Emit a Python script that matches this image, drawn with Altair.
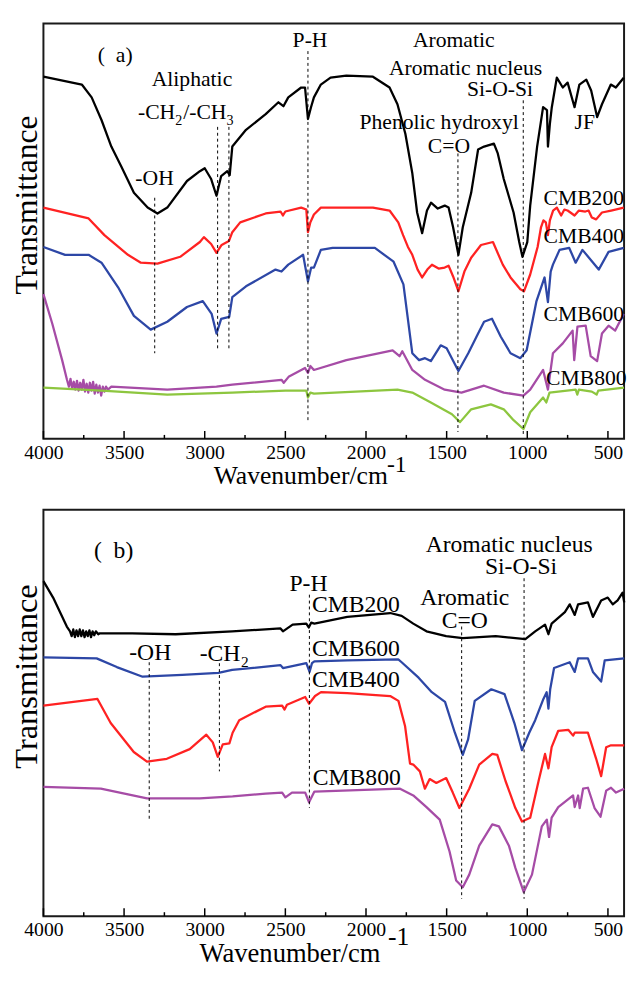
import altair as alt
import pandas as pd

FONT = "Liberation Serif"

# ---------------- Panel (a): wavenumber (cm-1), transmittance (a.u.) ----------------
A_JF = [(4000, 368), (3762, 360), (3701, 347), (3640, 324), (3579, 297), (3518, 277), (3439, 250),
        (3354, 235), (3293, 229), (3232, 235), (3110, 262), (3030, 272), (3000, 275), (2960, 264),
        (2927, 247), (2898, 267), (2860, 272), (2845, 268), (2829, 297), (2744, 314), (2622, 330),
        (2543, 342), (2512, 338), (2482, 347), (2402, 357), (2378, 357), (2360, 325), (2341, 337),
        (2323, 347), (2280, 360), (2220, 367), (2122, 369), (1957, 368), (1854, 357), (1805, 340),
        (1756, 310), (1713, 270), (1683, 230), (1652, 209), (1622, 232), (1597, 240), (1555, 234),
        (1512, 237), (1488, 235), (1460, 215), (1427, 187), (1400, 215), (1348, 250), (1305, 294),
        (1268, 297), (1207, 300), (1183, 290), (1146, 264), (1085, 230), (1050, 200), (1030, 185),
        (1000, 200), (982, 237), (939, 297), (902, 337), (878, 334), (872, 297), (860, 320),
        (848, 337), (817, 367), (780, 357), (750, 362), (707, 337), (677, 360), (634, 365),
        (604, 354), (567, 327), (537, 340), (482, 360), (451, 357), (402, 367)]
A_CMB200 = [(4000, 235), (3720, 224), (3622, 207), (3476, 187), (3396, 179), (3293, 178), (3152, 185),
            (3030, 200), (3005, 205), (2960, 198), (2927, 189), (2895, 197), (2850, 201), (2829, 210),
            (2780, 220), (2622, 229), (2530, 231), (2515, 227), (2500, 231), (2402, 235), (2370, 233),
            (2360, 210), (2345, 220), (2323, 228), (2280, 235), (2200, 235), (1957, 235), (1854, 232),
            (1800, 220), (1770, 207), (1740, 195), (1713, 187), (1680, 172), (1652, 164), (1620, 172),
            (1591, 177), (1550, 173), (1512, 174), (1488, 176), (1460, 165), (1427, 150), (1390, 170),
            (1348, 184), (1287, 197), (1213, 200), (1152, 177), (1104, 164), (1043, 152), (1020, 150),
            (982, 167), (936, 195), (915, 215), (900, 222), (885, 220), (872, 207), (860, 222),
            (840, 232), (817, 235), (790, 227), (770, 233), (750, 232), (707, 227), (680, 232),
            (640, 231), (620, 232), (600, 225), (573, 223), (537, 230), (480, 232), (402, 235)]
A_CMB400 = [(4000, 195), (3866, 187), (3720, 187), (3640, 179), (3537, 154), (3439, 125), (3335, 111),
            (3232, 119), (3110, 134), (3012, 140), (2957, 127), (2927, 107), (2898, 122), (2848, 124),
            (2829, 144), (2744, 155), (2561, 172), (2524, 170), (2482, 177), (2390, 187), (2360, 160),
            (2340, 174), (2323, 174), (2280, 192), (2207, 194), (1945, 194), (1829, 180), (1768, 157),
            (1713, 87), (1671, 80), (1634, 82), (1598, 79), (1537, 95), (1500, 92), (1427, 69),
            (1366, 87), (1305, 107), (1268, 119), (1219, 122), (1165, 104), (1104, 87), (1043, 82),
            (1004, 90), (943, 140), (893, 164), (872, 139), (855, 170), (841, 177), (800, 192),
            (740, 194), (700, 179), (658, 192), (597, 180), (557, 172), (496, 190), (402, 194)]
A_CMB600 = [(4000, 147), (3945, 117), (3884, 80), (3854, 60), (3842, 53), (3832, 61), (3822, 51),
            (3812, 58), (3802, 50), (3792, 59), (3782, 49), (3772, 57), (3762, 50), (3752, 60),
            (3742, 48), (3732, 56), (3722, 47), (3712, 57), (3702, 49), (3692, 58), (3682, 46),
            (3672, 55), (3662, 47), (3652, 54), (3642, 44), (3632, 53), (3622, 48), (3612, 53),
            (3600, 50), (3579, 53), (3232, 50), (2927, 53), (2829, 55), (2524, 60),
            (2510, 57), (2480, 63), (2378, 72), (2360, 67), (2345, 74), (2323, 70), (2122, 80),
            (1835, 90), (1792, 84), (1775, 89), (1713, 70), (1634, 60), (1512, 50), (1408, 47),
            (1268, 54), (1146, 47), (1024, 44), (982, 50), (902, 70), (872, 50), (841, 87),
            (780, 97), (719, 110), (709, 80), (689, 114), (638, 115), (607, 84), (567, 79),
            (537, 107), (496, 115), (455, 110), (402, 127)]
A_CMB800 = [(4000, 52), (3640, 49), (3232, 45), (2829, 47), (2500, 49), (2370, 49), (2360, 42),
            (2345, 47), (2323, 46), (1805, 50), (1713, 47), (1598, 37), (1467, 25), (1417, 17),
            (1348, 30), (1226, 35), (1146, 30), (1085, 19), (1024, 10), (982, 27), (902, 42),
            (882, 37), (862, 47), (700, 50), (690, 45), (680, 50), (600, 48), (570, 45), (560, 49),
            (400, 52)]
A_DASH = [(3310, 245, 87), (2920, 317, 90), (2850, 317, 90), (2360, 394, 17), (1430, 290, 7), (1025, 344, 4)]
A_LABELS = [("(\u00a0\u00a0a)", 3555, 390), ("Aliphatic", 3079, 366), ("-OH", 3311, 265), ("P-H", 2347, 405),
            ("Aromatic", 1456, 405), ("Aromatic nucleus", 1383, 377), ("Si-O-Si", 1169, 355),
            ("Phenolic hydroxyl", 1547, 322), ("C=O", 1486, 297), ("JF", 644, 322),
            ("CMB200", 650, 245), ("CMB400", 650, 206), ("CMB600", 650, 127), ("CMB800", 634, 62)]
# -CH2/-CH3 written in pieces (text, dx, is_subscript), anchored at left
A_SUB_ANCHOR = (3414, 325)
A_SUB_PIECES = [("-CH", 0, False), ("2", 38, True), ("/-CH", 46, False), ("3", 90, True)]

# ---------------- Panel (b) ----------------
B_CMB200 = [(4000, 347), (3940, 330), (3855, 300), (3835, 295), (3825, 290), (3815, 297), (3805, 289),
            (3795, 296), (3785, 290), (3775, 297), (3765, 290), (3755, 296), (3745, 289), (3735, 295),
            (3725, 290), (3715, 296), (3705, 289), (3695, 295), (3685, 291), (3675, 295), (3660, 292),
            (3650, 293), (3450, 293),
            (3180, 292), (2830, 295), (2530, 298), (2515, 295), (2455, 302), (2370, 303), (2355, 299),
            (2340, 304), (2320, 303), (2116, 310), (1850, 314), (1779, 311), (1707, 303), (1625, 295),
            (1503, 290), (1400, 288), (1196, 290), (1012, 287), (951, 295), (890, 302), (869, 292),
            (849, 303), (767, 315), (737, 323), (706, 312), (685, 323), (624, 325), (593, 310),
            (542, 327), (501, 330), (470, 323), (440, 327), (409, 335), (399, 325)]
B_CMB600 = [(4000, 268), (3670, 267), (3545, 258), (3385, 248), (3139, 250), (2915, 252), (2830, 255),
            (2530, 260), (2515, 257), (2370, 262), (2350, 253), (2335, 262), (2320, 264), (2116, 265),
            (1800, 266), (1779, 263), (1674, 247), (1592, 232), (1510, 222), (1449, 190), (1400, 167),
            (1367, 183), (1326, 223), (1223, 235), (1141, 230), (1080, 200), (1033, 172), (988, 190),
            (951, 203), (900, 225), (880, 232), (869, 215), (858, 235), (834, 257), (737, 263),
            (706, 253), (685, 267), (624, 267), (593, 253), (542, 243), (520, 265), (399, 267)]
B_CMB400 = [(4000, 218), (3665, 225), (3583, 200), (3440, 170), (3358, 160), (3235, 163), (3093, 173),
            (2990, 188), (2950, 180), (2919, 165), (2888, 178), (2847, 179), (2827, 190), (2786, 203),
            (2622, 217), (2520, 218), (2505, 214), (2490, 219), (2377, 227), (2353, 220), (2316, 228),
            (2279, 232), (2116, 231), (1850, 228), (1799, 223), (1758, 197), (1727, 158), (1707, 157),
            (1666, 150), (1635, 132), (1605, 142), (1564, 138), (1503, 143), (1462, 128), (1421, 112),
            (1360, 132), (1298, 157), (1217, 168), (1186, 167), (1135, 140), (1074, 112), (1033, 98),
            (982, 102), (930, 140), (890, 168), (869, 153), (849, 175), (808, 192), (746, 193),
            (716, 187), (706, 190), (624, 190), (573, 163), (542, 145), (511, 175), (481, 177),
            (399, 177)]
B_CMB800 = [(4000, 134), (3644, 132), (3358, 122), (3031, 122), (2827, 124), (2622, 127), (2520, 128),
            (2500, 123), (2459, 128), (2377, 128), (2353, 118), (2320, 129), (1789, 132), (1707, 125),
            (1625, 113), (1543, 100), (1482, 67), (1441, 37), (1400, 30), (1360, 43), (1298, 73),
            (1217, 95), (1176, 93), (1114, 73), (1074, 50), (1022, 25), (971, 43), (910, 93),
            (879, 100), (865, 82), (849, 102), (808, 113), (716, 125), (706, 113), (685, 125),
            (675, 112), (654, 132), (624, 133), (583, 112), (546, 103), (511, 130), (481, 133),
            (450, 128), (399, 132)]
B_DASH = [(3344, 263, 100), (2909, 262, 150), (2351, 333, 112), (1407, 300, 18), (1020, 350, 18)]
B_LABELS = [("(\u00a0\u00a0b)", 3565, 378), ("-OH", 3338, 272), ("P-H", 2357, 344),
            ("CMB200", 2063, 322), ("CMB600", 2063, 277), ("CMB400", 2063, 245), ("CMB800", 2057, 143),
            ("Aromatic nucleus", 1112, 384), ("Si-O-Si", 1039, 362), ("Aromatic", 1388, 329), ("C=O", 1388, 306)]
B_SUB_ANCHOR = (3031, 264)
B_SUB_PIECES = [("-CH", 0, False), ("2", 42, True)]

TICK_MAJOR = [4000, 3500, 3000, 2500, 2000, 1500, 1000, 500]
TICK_MINOR = [3750, 3250, 2750, 2250, 1750, 1250, 750]

A_COLORS = {"JF": "#000000", "CMB200": "#ff2222", "CMB400": "#2d47a6", "CMB600": "#a64ca6", "CMB800": "#8dc63f"}
B_COLORS = {"CMB200": "#000000", "CMB600": "#2d47a6", "CMB400": "#ff2222", "CMB800": "#a64ca6"}

W = 590


def series_df(series, color_map):
    rows = []
    for name, pts in series:
        for i, (w, t) in enumerate(pts):
            rows.append({"series": name, "wn": w, "t": t, "i": i, "col": color_map[name]})
    return pd.DataFrame(rows)


def panel(series, color_map, dashes, labels, sub_anchor, sub_pieces, h, ymax, lab_size,
          ytitle_y, ytitle_size, xtitle_size, xtitle_x, xtitle_y, sup_x, sup_y, sup_size):
    xscale = alt.Scale(domain=[4000, 400], nice=False)
    yscale = alt.Scale(domain=[0, ymax], nice=False)
    xaxis = alt.Axis(values=TICK_MAJOR, format="d", tickSize=0, domain=False, grid=False,
                     labelFont=FONT, labelFontSize=20, labelColor="#000", labelPadding=4,
                     labelFlush=False, title="Wavenumber/cm", titleFont=FONT,
                     titleFontSize=xtitle_size, titleFontWeight="normal", titleColor="#000",
                     titleX=xtitle_x, titleY=xtitle_y, titleBaseline="alphabetic")
    yaxis = alt.Axis(labels=False, ticks=False, domain=False, grid=False, title="Transmittance",
                     titleFont=FONT, titleFontSize=ytitle_size, titleFontWeight="normal",
                     titleColor="#000", titleX=-7, titleY=ytitle_y, titleAngle=270,
                     titleBaseline="alphabetic", titleAlign="center")
    X = alt.X("wn:Q", scale=xscale, axis=xaxis)
    Y = alt.Y("t:Q", scale=yscale, axis=yaxis)

    df = series_df(series, color_map)
    lines = alt.Chart(df).mark_line(strokeWidth=2.3, strokeJoin="round").encode(
        x=X, y=Y, color=alt.Color("col:N", scale=None), order="i:Q", detail="series:N")

    ddf = pd.DataFrame([{"wn": w, "t": a, "t2": b} for w, a, b in dashes])
    dash = alt.Chart(ddf).mark_rule(color="#000", strokeWidth=1, strokeDash=[3, 3]).encode(
        x=X, y=Y, y2="t2:Q")

    major = alt.Chart(pd.DataFrame({"wn": TICK_MAJOR})).mark_rule(color="#000", strokeWidth=1.5).encode(
        x=X, y=alt.value(h), y2=alt.value(h - 8))
    minor = alt.Chart(pd.DataFrame({"wn": TICK_MINOR})).mark_rule(color="#000", strokeWidth=1.5).encode(
        x=X, y=alt.value(h), y2=alt.value(h - 4))

    ldf = pd.DataFrame([{"label": s, "wn": w, "t": t} for s, w, t in labels])
    texts = alt.Chart(ldf).mark_text(font=FONT, fontSize=lab_size, color="#000", baseline="middle",
                                     align="center").encode(x=X, y=Y, text="label:N")

    layers = [lines, dash, major, minor, texts]
    for s, dx, sub in sub_pieces:
        pdf = pd.DataFrame([{"label": s, "wn": sub_anchor[0], "t": sub_anchor[1]}])
        layers.append(alt.Chart(pdf).mark_text(
            font=FONT, fontSize=(lab_size * 0.65 if sub else lab_size), color="#000",
            baseline="alphabetic", align="left", dx=dx, dy=(6 if sub else 0)).encode(
            x=X, y=Y, text="label:N"))

    sup = alt.Chart(pd.DataFrame({"label": ["-1"]})).mark_text(
        font=FONT, fontSize=sup_size, color="#000", baseline="middle", align="center").encode(
        x=alt.value(sup_x), y=alt.value(sup_y), text="label:N")
    layers.append(sup)

    return alt.layer(*layers).properties(width=W, height=h)


panel_a = panel(
    [("JF", A_JF), ("CMB200", A_CMB200), ("CMB400", A_CMB400), ("CMB600", A_CMB600), ("CMB800", A_CMB800)],
    A_COLORS, A_DASH, A_LABELS, A_SUB_ANCHOR, A_SUB_PIECES, 422, 422, 22,
    184, 32, 26, 261, 45, 359, 449, 24)

panel_b = panel(
    [("CMB200", B_CMB200), ("CMB600", B_CMB600), ("CMB400", B_CMB400), ("CMB800", B_CMB800)],
    B_COLORS, B_DASH, B_LABELS, B_SUB_ANCHOR, B_SUB_PIECES, 413, 421, 24,
    169, 33, 27, 250, 46, 361, 434, 26)

chart = alt.vconcat(panel_a, panel_b, spacing=20).properties(
    padding={"left": 1, "top": 7, "right": 0, "bottom": 0}
).configure_view(stroke="#1a1a1a", strokeWidth=2).configure_concat(spacing=20).configure_axis(
    labelFont=FONT, titleFont=FONT, labelColor="#000", titleColor="#000")

chart.save("out.html", embed_options={"renderer": "svg", "actions": False})
